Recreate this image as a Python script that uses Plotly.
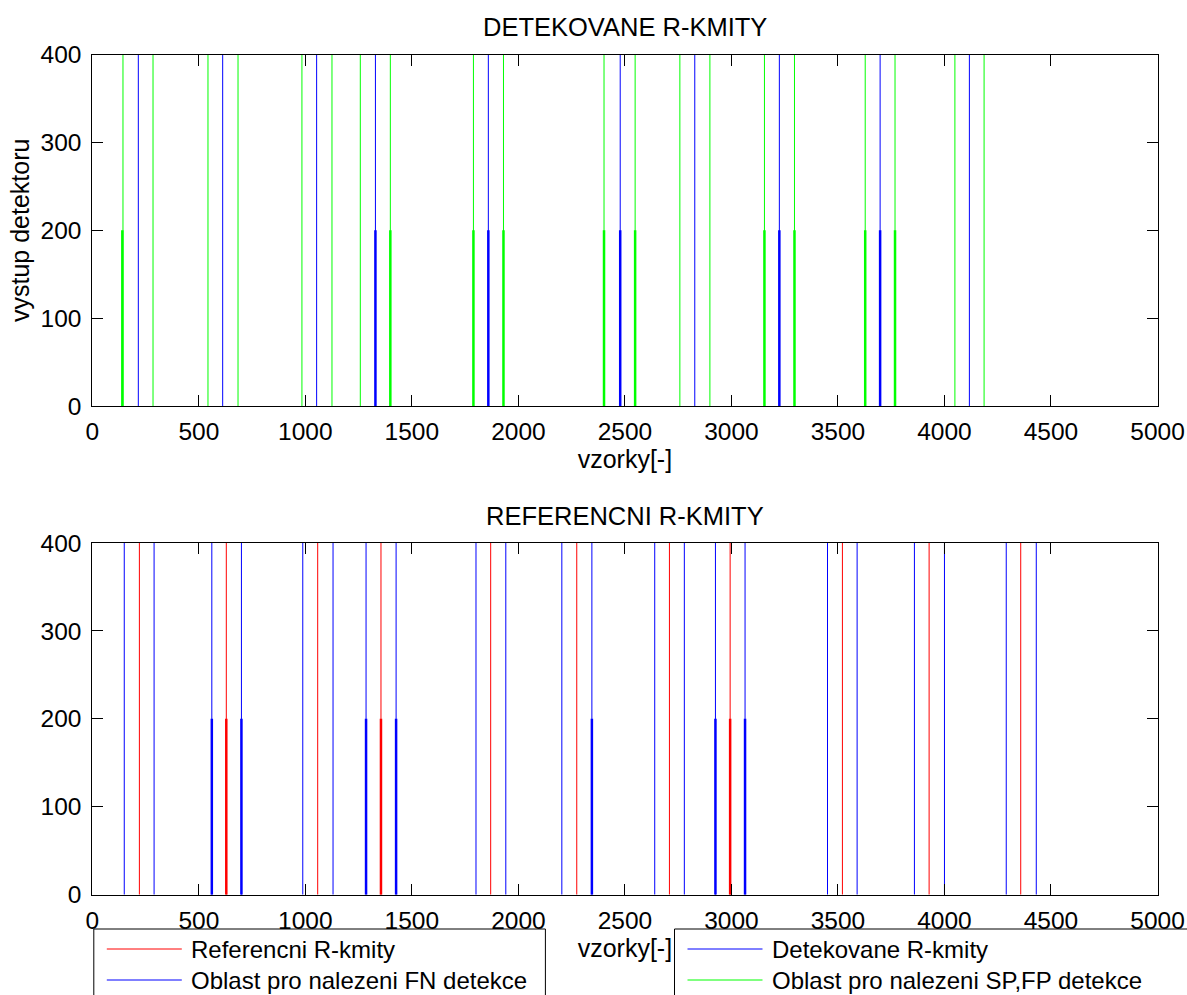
import plotly.graph_objects as go

# Sample positions of the vertical markers (x in samples)
det_peaks = [216, 612, 1053, 1329, 1859, 2478, 2828, 3225, 3698, 4117]
det_window_edges = [144, 285, 543, 684, 984, 1125, 1258, 1399, 1789, 1930,
                    2402, 2548, 2758, 2899, 3155, 3296, 3628, 3768, 4049, 4186]
det_short_green = [141, 1399, 1789, 1930, 2402, 2548, 3155, 3296, 3628, 3768]
det_short_blue = [1329, 1859, 2478, 3225, 3698]

ref_peaks = [221, 629, 1058, 1355, 1870, 2274, 2709, 2994, 3521, 3928, 4358]
ref_window_edges = [150, 290, 561, 700, 988, 1130, 1285, 1426, 1801, 1941, 2204,
                    2345, 2640, 2779, 2925, 3064, 3451, 3590, 3859, 4000, 4290, 4431]
ref_short_blue = [561, 700, 1285, 1426, 2345, 2925, 3064]
ref_short_red = [629, 1355, 2994]

full_height = 400
short_height = 200

x_ticks = list(range(0, 5001, 500))
y_ticks = list(range(0, 401, 100))

W, H = 1187, 995
FONT = "Liberation Sans, Arial, sans-serif"
GREEN, BLUE, RED = "#00ff00", "#0000ff", "#ff0000"


def px(x):
    return x / W


def py(y):
    return 1 - y / H


def vlines(xs, top, color, width, xa, ya):
    xx, yy = [], []
    for v in xs:
        xx += [v, v, None]
        yy += [0, top, None]
    return go.Scatter(x=xx, y=yy, mode="lines", xaxis=xa, yaxis=ya,
                      line=dict(color=color, width=width),
                      showlegend=False, hoverinfo="skip")


fig = go.Figure()
# top panel: detected peaks and their search windows
fig.add_trace(vlines(det_window_edges, full_height, GREEN, 1, "x", "y"))
fig.add_trace(vlines(det_peaks, full_height, BLUE, 1, "x", "y"))
fig.add_trace(vlines(det_short_green, short_height, GREEN, 2.5, "x", "y"))
fig.add_trace(vlines(det_short_blue, short_height, BLUE, 2.5, "x", "y"))
# bottom panel: reference peaks and their search windows
fig.add_trace(vlines(ref_window_edges, full_height, BLUE, 1, "x2", "y2"))
fig.add_trace(vlines(ref_peaks, full_height, RED, 1, "x2", "y2"))
fig.add_trace(vlines(ref_short_blue, short_height, BLUE, 2.5, "x2", "y2"))
fig.add_trace(vlines(ref_short_red, short_height, RED, 2.5, "x2", "y2"))

axis_common = dict(showline=True, linecolor="black", linewidth=1, mirror="ticks",
                   ticks="inside", ticklen=11, tickcolor="black", tickwidth=1,
                   showgrid=False, zeroline=False,
                   tickfont=dict(family=FONT, size=24.5, color="black"))

x_dom = [px(92.3), px(1157.5)]
xaxis = dict(axis_common, range=[0, 5000], tickvals=x_ticks, domain=x_dom,
             ticklabelstandoff=4,
             title=dict(text="vzorky[-]", standoff=2,
                        font=dict(family=FONT, size=25, color="black")))
yaxis = dict(axis_common, range=[0, 400], tickvals=y_ticks, ticklabelstandoff=5)

fig.update_layout(
    width=W, height=H,
    margin=dict(l=0, r=0, t=0, b=0, autoexpand=False),
    paper_bgcolor="white", plot_bgcolor="white",
    xaxis=dict(xaxis, anchor="y"),
    yaxis=dict(yaxis, anchor="x", domain=[py(406), py(54.7)],
               title=dict(text="vystup detektoru", standoff=3,
                          font=dict(family=FONT, size=25, color="black"))),
    xaxis2=dict(xaxis, anchor="y2"),
    yaxis2=dict(yaxis, anchor="x2", domain=[py(894.7), py(543)]),
)

# panel titles
for text, yc in [("DETEKOVANE R-KMITY", 27), ("REFERENCNI R-KMITY", 516)]:
    fig.add_annotation(text=text, xref="paper", yref="paper",
                       x=px(624.9), y=py(yc), xanchor="center", yanchor="middle",
                       showarrow=False, font=dict(family=FONT, size=25.5, color="black"))

# legend boxes below the lower panel
legend_boxes = [
    dict(x0=93.8, x1=545.4, items=[("Referencni R-kmity", RED),
                                   ("Oblast pro nalezeni FN detekce", BLUE)]),
    dict(x0=674.5, x1=1195, items=[("Detekovane R-kmity", BLUE),
                                   ("Oblast pro nalezeni SP,FP detekce", GREEN)]),
]
box_top = 929
row_y = [949, 980]
for box in legend_boxes:
    fig.add_shape(type="rect", xref="paper", yref="paper",
                  x0=px(box["x0"]), x1=px(box["x1"]), y0=py(box_top), y1=py(1010),
                  line=dict(color="black", width=1), fillcolor="white", layer="above")
    for (label, color), ry in zip(box["items"], row_y):
        fig.add_shape(type="line", xref="paper", yref="paper",
                      x0=px(box["x0"] + 13), x1=px(box["x0"] + 88),
                      y0=py(ry), y1=py(ry), line=dict(color=color, width=1))
        fig.add_annotation(text=label, xref="paper", yref="paper",
                           x=px(box["x0"] + 95), y=py(ry), xanchor="left",
                           yanchor="middle", showarrow=False,
                           font=dict(family=FONT, size=24, color="black"))

fig.write_html("out.html")
